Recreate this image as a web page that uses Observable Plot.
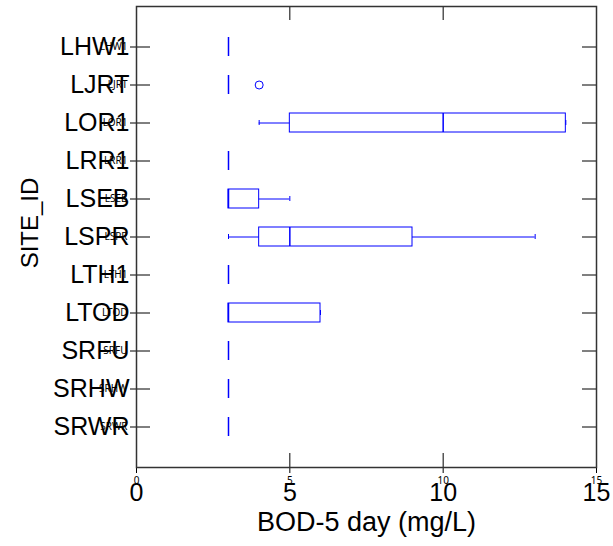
<!DOCTYPE html>
<html>
<head>
<meta charset="utf-8">
<script src="https://cdn.jsdelivr.net/npm/d3@7"></script>
<script src="https://cdn.jsdelivr.net/npm/@observablehq/plot@0.6"></script>
<style>
  html, body { margin: 0; padding: 0; background: #fff; }
  #chart { position: relative; width: 613px; height: 546px; }
  #chart svg { position: absolute; left: 0; top: 0; }
</style>
</head>
<body>
<div id="chart"></div>
<script>
// ---- data ----
const sites = ["LHW1","LJRT","LOR1","LRR1","LSEB","LSPR","LTH1","LTOD","SRFU","SRHW","SRWR"];
const whiskerLow  = [3, 3, 4, 3, 3, 3, 3, 3, 3, 3, 3];
const q1          = [3, 3, 5, 3, 3, 4, 3, 3, 3, 3, 3];
const median      = [3, 3,10, 3, 3, 5, 3, 3, 3, 3, 3];
const q3          = [3, 3,14, 3, 4, 9, 3, 6, 3, 3, 3];
const whiskerHigh = [3, 3,14, 3, 5,13, 3, 6, 3, 3, 3];
const outlierSites  = ["LJRT"];
const outlierValues = [4];
const xTicks = [0, 5, 10, 15];
const xLabel = "BOD-5 day (mg/L)";
const yLabel = "SITE_ID";

const rows = sites.map((s, i) => ({
  site: s, lo: whiskerLow[i], q1: q1[i], med: median[i], q3: q3[i], hi: whiskerHigh[i]
}));
const outliers = outlierSites.map((s, i) => ({site: s, value: outlierValues[i]}));

const blue = "#0000ff";
const font = "'Liberation Sans', Arial, Helvetica, sans-serif";

// shared layout and scales
const layout = {
  width: 613, height: 546,
  marginLeft: 136, marginRight: 17, marginTop: 6, marginBottom: 79,
  x: {domain: [0, 15], ticks: xTicks},
  y: {type: "band", domain: sites, paddingInner: 0.5, paddingOuter: 0.75}
};

// main layer: boxplots, labels, titles
const chart = Plot.plot({
  ...layout,
  style: {fontFamily: font, fontSize: "25px", background: "#fff", color: "#000"},
  marks: [
    Plot.ruleY(rows, {y: "site", x1: "lo", x2: "q1", stroke: blue, strokeWidth: 1}),
    Plot.ruleY(rows, {y: "site", x1: "q3", x2: "hi", stroke: blue, strokeWidth: 1}),
    Plot.tickX(rows, {x: "lo", y: "site", stroke: blue, strokeWidth: 1, insetTop: 7, insetBottom: 7}),
    Plot.tickX(rows, {x: "hi", y: "site", stroke: blue, strokeWidth: 1, insetTop: 7, insetBottom: 7}),
    Plot.barX(rows, {y: "site", x1: "q1", x2: "q3", fill: "none", stroke: blue, strokeWidth: 1}),
    Plot.tickX(rows, {x: "med", y: "site", stroke: blue, strokeWidth: 1.5}),
    Plot.dot(outliers, {x: "value", y: "site", r: 4, stroke: blue, fill: "none", strokeWidth: 1}),
    Plot.axisX(xTicks, {anchor: "bottom", tickSize: 0, tickPadding: 16, label: null}),
    Plot.axisY(sites, {anchor: "left", tickSize: 0, tickPadding: 7, label: null}),
    Plot.text([xLabel], {frameAnchor: "bottom", dy: 55, text: d => d, fill: "#000",
      textAnchor: "middle", lineAnchor: "middle", fontSize: 27}),
    Plot.text([yLabel], {frameAnchor: "left", dx: -106, dy: -14, rotate: -90, text: d => d, fill: "#000",
      textAnchor: "middle", lineAnchor: "middle", fontSize: 24})
  ]
});

// overlay layer: frame and inward ticks on all four sides (same scales)
const overlay = Plot.plot({
  ...layout,
  style: {background: "transparent", color: "#000"},
  marks: [
    Plot.ruleX(xTicks, {stroke: "#000", insetBottom: 447}),
    Plot.ruleX(xTicks, {stroke: "#000", insetTop: 447}),
    Plot.ruleY(sites, {stroke: "#000", insetRight: 446}),
    Plot.ruleY(sites, {stroke: "#000", insetLeft: 446}),
    Plot.frame({stroke: "#333", strokeWidth: 1.5})
  ]
});

const host = document.getElementById("chart");
host.appendChild(chart);
host.appendChild(overlay);
</script>
</body>
</html>
